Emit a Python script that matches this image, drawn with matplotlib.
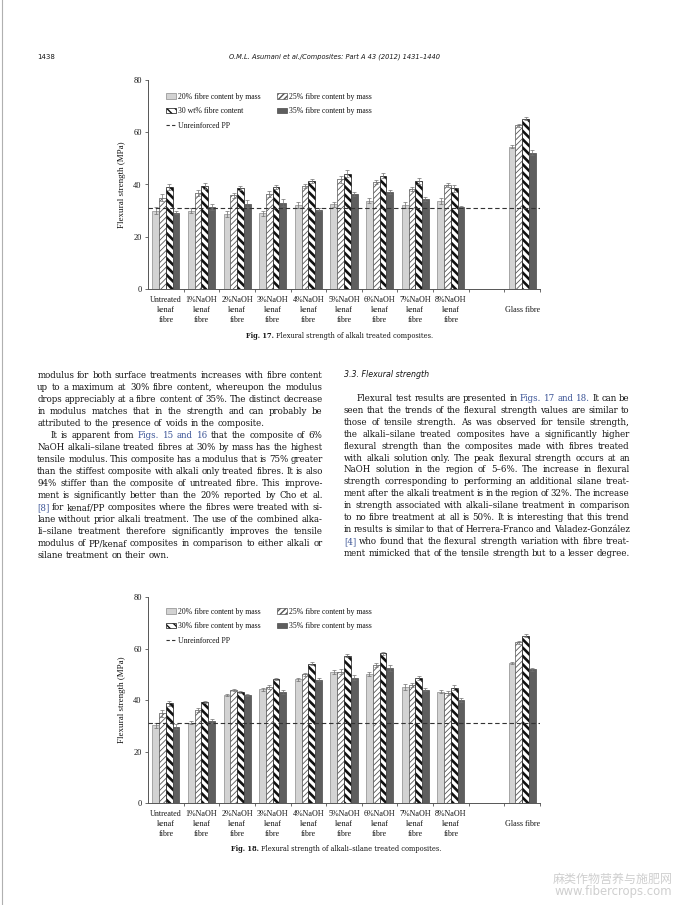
import numpy as np
import matplotlib
matplotlib.use("Agg")
import matplotlib.pyplot as plt
from matplotlib.transforms import IdentityTransform
from matplotlib.patches import Patch
from matplotlib.lines import Line2D

W, H = 678, 905
DPI = 100

# ---------------- data ----------------
group_labels = ["Untreated\nkenaf\nfibre", "1%NaOH\nkenaf\nfibre", "2%NaOH\nkenaf\nfibre",
                "3%NaOH\nkenaf\nfibre", "4%NaOH\nkenaf\nfibre", "5%NaOH\nkenaf\nfibre",
                "6%NaOH\nkenaf\nfibre", "7%NaOH\nkenaf\nfibre", "8%NaOH\nkenaf\nfibre",
                "", "\nGlass fibre\n"]
group_pos = [0, 1, 2, 3, 4, 5, 6, 7, 8, 10]

# Fig. 17 - alkali treated (MPa)
f17_20 = [30.0, 30.0, 28.6, 29.0, 32.2, 32.4, 33.8, 32.2, 33.7, 54.5]
f17_25 = [35.0, 36.7, 35.9, 36.3, 39.3, 42.0, 41.0, 38.2, 39.8, 62.6]
f17_30 = [39.0, 39.5, 38.6, 39.0, 41.3, 44.2, 43.4, 41.4, 38.6, 65.1]
f17_35 = [29.2, 31.3, 32.6, 33.1, 30.3, 36.3, 37.2, 34.5, 31.3, 52.2]
f17_e20 = [1.2, 1.0, 1.1, 1.0, 1.2, 1.0, 1.0, 1.2, 1.3, 0.5]
f17_e25 = [1.2, 1.1, 1.0, 1.2, 0.8, 1.3, 0.8, 0.8, 0.6, 0.6]
f17_e30 = [1.2, 1.2, 0.8, 0.8, 0.9, 1.5, 0.9, 1.1, 1.3, 0.6]
f17_e35 = [0.6, 1.2, 1.3, 1.2, 0.6, 0.8, 0.7, 0.8, 0.6, 0.9]
f17_pp = 31.0
f17_legend = ["20% fibre content by mass", "25% fibre content by mass",
              "30 wt% fibre content", "35% fibre content by mass", "Unreinforced PP"]

# Fig. 18 - alkali-silane treated (MPa)
f18_20 = [30.2, 31.2, 42.0, 44.2, 48.2, 50.8, 50.2, 45.0, 43.3, 54.6]
f18_25 = [34.9, 36.2, 44.0, 45.1, 50.0, 51.1, 53.8, 45.9, 42.9, 62.5]
f18_30 = [38.8, 39.2, 43.2, 48.2, 54.1, 57.3, 58.2, 48.7, 44.9, 65.1]
f18_35 = [29.7, 31.9, 41.9, 43.1, 48.0, 48.8, 52.5, 44.0, 40.1, 52.0]
f18_e20 = [1.0, 0.6, 0.4, 0.5, 0.6, 0.8, 0.7, 1.2, 0.5, 0.4]
f18_e25 = [1.3, 0.7, 0.5, 0.6, 0.7, 0.9, 0.8, 0.6, 0.8, 0.5]
f18_e30 = [1.0, 0.3, 0.4, 0.5, 0.6, 0.7, 0.7, 0.8, 0.8, 0.7]
f18_e35 = [1.0, 0.6, 0.4, 0.7, 0.6, 1.0, 1.0, 0.6, 0.7, 0.6]
f18_pp = 31.0
f18_legend = ["20% fibre content by mass", "25% fibre content by mass",
              "30% fibre content by mass", "35% fibre content by mass", "Unreinforced PP"]

y_ticks = [0, 20, 40, 60, 80]
y_label = "Flexural strength (MPa)"

header_left = "1438"
header_center = "O.M.L. Asumani et al./Composites: Part A 43 (2012) 1431\u20131440"
cap17 = ("Fig. 17.", "Flexural strength of alkali treated composites.")
cap18 = ("Fig. 18.", "Flexural strength of alkali\u2013silane treated composites.")
section_title = "3.3. Flexural strength"

# (text, justified, indent) ; words starting with ^ are links (blue)
left_lines = [
    ("modulus for both surface treatments increases with fibre content", True, 0),
    ("up to a maximum at 30% fibre content, whereupon the modulus", True, 0),
    ("drops appreciably at a fibre content of 35%. The distinct decrease", True, 0),
    ("in modulus matches that in the strength and can probably be", True, 0),
    ("attributed to the presence of voids in the composite.", False, 0),
    ("It is apparent from ^Figs. ^15 ^and ^16 that the composite of 6%", True, 13),
    ("NaOH alkali\u2013silane treated fibres at 30% by mass has the highest", True, 0),
    ("tensile modulus. This composite has a modulus that is 75% greater", True, 0),
    ("than the stiffest composite with alkali only treated fibres. It is also", True, 0),
    ("94% stiffer than the composite of untreated fibre. This improve-", True, 0),
    ("ment is significantly better than the 20% reported by Cho et al.", True, 0),
    ("^[8] for kenaf/PP composites where the fibres were treated with si-", True, 0),
    ("lane without prior alkali treatment. The use of the combined alka-", True, 0),
    ("li\u2013silane treatment therefore significantly improves the tensile", True, 0),
    ("modulus of PP/kenaf composites in comparison to either alkali or", True, 0),
    ("silane treatment on their own.", False, 0),
]
right_lines = [
    ("Flexural test results are presented in ^Figs. ^17 ^and ^18. It can be", True, 13),
    ("seen that the trends of the flexural strength values are similar to", True, 0),
    ("those of tensile strength. As was observed for tensile strength,", True, 0),
    ("the alkali\u2013silane treated composites have a significantly higher", True, 0),
    ("flexural strength than the composites made with fibres treated", True, 0),
    ("with alkali solution only. The peak flexural strength occurs at an", True, 0),
    ("NaOH solution in the region of 5\u20136%. The increase in flexural", True, 0),
    ("strength corresponding to performing an additional silane treat-", True, 0),
    ("ment after the alkali treatment is in the region of 32%. The increase", True, 0),
    ("in strength associated with alkali\u2013silane treatment in comparison", True, 0),
    ("to no fibre treatment at all is 50%. It is interesting that this trend", True, 0),
    ("in results is similar to that of Herrera-Franco and Valadez-Gonz\u00e1lez", True, 0),
    ("^[4] who found that the flexural strength variation with fibre treat-", True, 0),
    ("ment mimicked that of the tensile strength but to a lesser degree.", True, 0),
]
watermark_cn = "麻类作物营养与施肥网"
watermark_url = "www.fibercrops.com"

# ---------------- styles ----------------
SERIF = "Liberation Serif"
BODYKW = dict(family="DejaVu Serif", stretch="condensed")
TEXTC = "#151515"
LINK = "#3b5496"
C20 = "#d3d3d3"
C35 = "#5e5e5e"

fig = plt.figure(figsize=(W / DPI, H / DPI), dpi=DPI)
fig.patch.set_facecolor("white")
renderer = fig.canvas.get_renderer()
ID = IdentityTransform()


def px_axes(left, top, right, bottom):
    return fig.add_axes([left / W, 1 - bottom / H, (right - left) / W, (bottom - top) / H])


def set_hlw(container, lw):
    for p in container.patches:
        if hasattr(p, "set_hatch_linewidth"):
            p.set_hatch_linewidth(lw)


def draw_chart(ax, s20, s25, s30, s35, e20, e25, e30, e35, pp, legend_labels, leg_anchor):
    x = np.array(group_pos, dtype=float)
    w = 0.19
    ekw = dict(ecolor="#707070", elinewidth=0.5, capsize=1.3, capthick=0.5)
    ax.bar(x - 1.5 * w, s20, w, color=C20, edgecolor="#8c8c8c", linewidth=0.5,
           yerr=e20, error_kw=ekw, zorder=2)
    with plt.rc_context({"hatch.linewidth": 0.6}):
        b25 = ax.bar(x - 0.5 * w, s25, w, color="white", edgecolor="#555555", linewidth=0.5,
                     hatch="//////", yerr=e25, error_kw=ekw, zorder=2)
    set_hlw(b25, 0.6)
    with plt.rc_context({"hatch.linewidth": 1.9}):
        b30 = ax.bar(x + 0.5 * w, s30, w, color="white", edgecolor="#111111", linewidth=0.5,
                     hatch="\\\\\\\\", yerr=e30, error_kw=ekw, zorder=2)
    set_hlw(b30, 1.9)
    ax.bar(x + 1.5 * w, s35, w, color=C35, edgecolor="#4a4a4a", linewidth=0.5,
           yerr=e35, error_kw=ekw, zorder=2)
    ax.axhline(pp, color="#333333", linewidth=0.8, dashes=(4, 2.5), zorder=3)

    ax.set_xlim(-0.5, 10.5)
    ax.set_ylim(0, 80)
    ax.set_yticks(y_ticks)
    ax.set_yticklabels([str(v) for v in y_ticks], family=SERIF, fontsize=6.0, color=TEXTC)
    ax.set_xticks(range(len(group_labels)))
    ax.set_xticklabels(group_labels, family=SERIF, fontsize=5.8, color=TEXTC,
                       linespacing=1.35, va="top")
    ax.set_xticks(np.arange(0.5, 10.6, 1.0), minor=True)
    ax.tick_params(axis="x", which="major", length=0, pad=5)
    ax.tick_params(axis="x", which="minor", length=2.5, width=0.6, color="#555555", direction="out")
    ax.tick_params(axis="y", length=2.5, width=0.6, color="#555555", pad=2)
    for s in ("top", "right"):
        ax.spines[s].set_visible(False)
    for s in ("left", "bottom"):
        ax.spines[s].set_linewidth(0.7)
        ax.spines[s].set_color("#555555")
    ax.set_ylabel(y_label, family=SERIF, fontsize=6.5, color=TEXTC, labelpad=5)

    h20 = Patch(facecolor=C20, edgecolor="#8c8c8c", linewidth=0.5)
    with plt.rc_context({"hatch.linewidth": 0.6}):
        h25 = Patch(facecolor="white", edgecolor="#555555", linewidth=0.5, hatch="//////")
    with plt.rc_context({"hatch.linewidth": 1.6}):
        h30 = Patch(facecolor="white", edgecolor="#111111", linewidth=0.5, hatch="\\\\\\\\")
    h35 = Patch(facecolor=C35, edgecolor="#4a4a4a", linewidth=0.5)
    hpp = Line2D([], [], color="#333333", linewidth=0.8, dashes=(3, 2))
    handles = [h20, h30, hpp, h25, h35]
    labels = [legend_labels[0], legend_labels[2], legend_labels[4], legend_labels[1], legend_labels[3]]
    leg = ax.legend(handles, labels, ncol=2, loc="upper left", bbox_to_anchor=leg_anchor,
                    frameon=False, prop={"family": SERIF, "size": 5.6},
                    handlelength=1.3, handleheight=0.75, handletextpad=0.35,
                    labelspacing=0.85, columnspacing=2.0, borderpad=0, borderaxespad=0)
    for t in leg.get_texts():
        t.set_color(TEXTC)


ax1 = px_axes(148, 80, 540, 289)
draw_chart(ax1, f17_20, f17_25, f17_30, f17_35, f17_e20, f17_e25, f17_e30, f17_e35,
           f17_pp, f17_legend, (0.045, 0.94))
ax2 = px_axes(148, 597.3, 540, 803)
draw_chart(ax2, f18_20, f18_25, f18_30, f18_35, f18_e20, f18_e25, f18_e30, f18_e35,
           f18_pp, f18_legend, (0.045, 0.95))


# ---------------- page text ----------------
def tw(s, size, **kw):
    t = fig.text(0, 0, s, fontsize=size, transform=ID, **kw)
    wdt = t.get_window_extent(renderer).width
    t.remove()
    return wdt


def put(x, y_img, s, size, **kw):
    return fig.text(x, H - y_img, s, fontsize=size, transform=ID, **kw)


# body font size: fit the widest justified line (with tight spacing) to the column width
COLW = 285.5
f0 = 7.0
sp0 = tw("x x", f0, **BODYKW) - tw("xx", f0, **BODYKW)
mx = 0
for txt, just, ind in left_lines + right_lines:
    if just:
        ws = [w.lstrip("^") for w in txt.split()]
        nat = sum(tw(c, f0, **BODYKW) for c in ws) + sp0 * 0.45 * (len(ws) - 1) + ind
        mx = max(mx, nat)
BODY = f0 * COLW / mx * 0.995
SP = tw("x x", BODY, **BODYKW) - tw("xx", BODY, **BODYKW)


def draw_column(lines, x0, x1, yb0, dy):
    for i, (txt, just, ind) in enumerate(lines):
        yb = yb0 + i * dy
        words = txt.split()
        clean = [w.lstrip("^") for w in words]
        widths = [tw(c, BODY, **BODYKW) for c in clean]
        start = x0 + ind
        if just and len(words) > 1:
            gap = (x1 - start - sum(widths)) / (len(words) - 1)
        else:
            gap = SP
        x = start
        for wd_raw, c, wd in zip(words, clean, widths):
            col = LINK if wd_raw.startswith("^") else TEXTC
            put(x, yb, c, BODY, color=col, va="baseline", ha="left", **BODYKW)
            x += wd + gap


draw_column(left_lines, 37.3, 322.7, 378.0, 12.0)
draw_column(right_lines, 344.0, 629.7, 401.0, 11.9)

# section title
SANS_I = dict(family="DejaVu Sans", style="italic")
fs = 6.0 * 86.0 / tw(section_title, 6.0, **SANS_I)
put(344.0, 377.0, section_title, fs, color=TEXTC, va="baseline", ha="left", **SANS_I)

# running header
fh = 6.0 * 213.0 / tw(header_center, 6.0, **SANS_I)
put(334.5, 57.0, header_center, fh, color=TEXTC, va="center", ha="center", **SANS_I)
put(37.0, 57.0, header_left, fh * 1.05, color=TEXTC, va="center", ha="left", family="DejaVu Sans")


# captions
def caption(parts, cx, yc, size):
    wb = tw(parts[0], size, weight="bold", **BODYKW)
    sp = tw("x x", size, **BODYKW) - tw("xx", size, **BODYKW)
    wn = tw(parts[1], size, **BODYKW)
    total = wb + sp + wn
    x0 = cx - total / 2
    put(x0, yc, parts[0], size, weight="bold", color=TEXTC, va="center", ha="left", **BODYKW)
    put(x0 + wb + sp, yc, parts[1], size, color=TEXTC, va="center", ha="left", **BODYKW)


full18 = cap18[0] + " " + cap18[1]
fc = 6.0 * 208.0 / tw(full18, 6.0, **BODYKW)
caption(cap17, 340.0, 336.0, fc)
caption(cap18, 336.0, 849.0, fc)

# watermark
fw = 8.0 * 120.0 / tw(watermark_cn, 8.0, family=["Noto Sans CJK SC", "DejaVu Sans"])
put(613.0, 879.0, watermark_cn, fw, family=["Noto Sans CJK SC", "DejaVu Sans"],
    color="#cfcfcf", va="center", ha="center")
fu = 8.0 * 118.0 / tw(watermark_url, 8.0, family="DejaVu Sans")
put(613.0, 891.5, watermark_url, fu, family="DejaVu Sans", color="#cfcfcf",
    va="center", ha="center")

# page edge line
fig.add_artist(Line2D([2.0 / W, 2.0 / W], [0, 1], transform=fig.transFigure,
                      color="#b0b0b0", linewidth=0.8))

fig.savefig("out.png", dpi=DPI, facecolor="white")
